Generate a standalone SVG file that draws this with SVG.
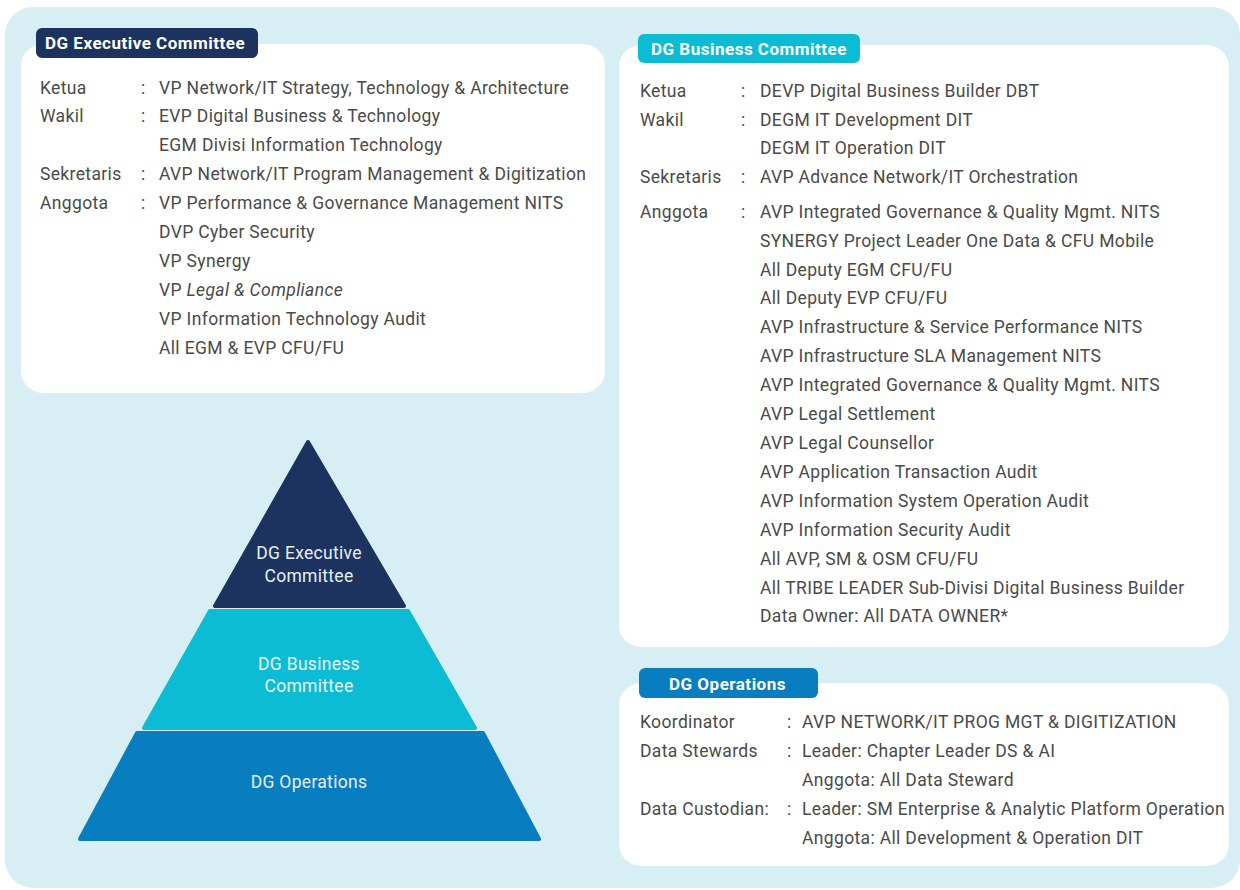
<svg xmlns="http://www.w3.org/2000/svg" width="1240" height="890" viewBox="0 0 1240 890">
<style>
.t{font-family:Roboto,"Liberation Sans",sans-serif;font-size:17.5px;letter-spacing:0.35px;fill:#4a4a4a}
.h{font-family:Roboto,"Liberation Sans",sans-serif;font-size:17px;letter-spacing:0.5px;font-weight:bold;fill:#ffffff}
.p{font-family:Roboto,"Liberation Sans",sans-serif;font-size:17.5px;letter-spacing:0.3px;text-anchor:middle}
.box{fill:#ffffff}
</style>
<rect x="5" y="7" width="1235" height="881" rx="28" fill="#d7eff4"/>
<g id="exec-committee">
<rect class="box" x="21" y="44" width="584" height="349" rx="22"/>
<rect x="36" y="28" width="222" height="30" rx="6" fill="#1b335e"/>
<text class="h" x="45" y="49">DG Executive Committee</text>
<text class="t" x="40" y="94">Ketua</text><text class="t" x="141" y="94">:</text><text class="t" x="159" y="94">VP Network/IT Strategy, Technology &amp; Architecture</text>
<text class="t" x="40" y="122">Wakil</text><text class="t" x="141" y="122">:</text><text class="t" x="159" y="122">EVP Digital Business &amp; Technology</text>
<text class="t" x="159" y="151">EGM Divisi Information Technology</text>
<text class="t" x="40" y="180">Sekretaris</text><text class="t" x="141" y="180">:</text><text class="t" x="159" y="180">AVP Network/IT Program Management &amp; Digitization</text>
<text class="t" x="40" y="209">Anggota</text><text class="t" x="141" y="209">:</text><text class="t" x="159" y="209">VP Performance &amp; Governance Management NITS</text>
<text class="t" x="159" y="238">DVP Cyber Security</text>
<text class="t" x="159" y="267">VP Synergy</text>
<text class="t" x="159" y="296">VP <tspan font-style="italic">Legal &amp; Compliance</tspan></text>
<text class="t" x="159" y="325">VP Information Technology Audit</text>
<text class="t" x="159" y="354">All EGM &amp; EVP CFU/FU</text>
</g>
<g id="business-committee">
<rect class="box" x="619" y="45" width="610" height="602" rx="22"/>
<rect x="638" y="34" width="222" height="29" rx="6" fill="#0bbcd4"/>
<text class="h" x="651" y="55">DG Business Committee</text>
<text class="t" x="640" y="97">Ketua</text><text class="t" x="741" y="97">:</text><text class="t" x="760" y="97">DEVP Digital Business Builder DBT</text>
<text class="t" x="640" y="126">Wakil</text><text class="t" x="741" y="126">:</text><text class="t" x="760" y="126">DEGM IT Development DIT</text>
<text class="t" x="760" y="154">DEGM IT Operation DIT</text>
<text class="t" x="640" y="183">Sekretaris</text><text class="t" x="741" y="183">:</text><text class="t" x="760" y="183">AVP Advance Network/IT Orchestration</text>
<text class="t" x="640" y="218">Anggota</text><text class="t" x="741" y="218">:</text><text class="t" x="760" y="218">AVP Integrated Governance &amp; Quality Mgmt. NITS</text>
<text class="t" x="760" y="247">SYNERGY Project Leader One Data &amp; CFU Mobile</text>
<text class="t" x="760" y="276">All Deputy EGM CFU/FU</text>
<text class="t" x="760" y="304">All Deputy EVP CFU/FU</text>
<text class="t" x="760" y="333">AVP Infrastructure &amp; Service Performance NITS</text>
<text class="t" x="760" y="362">AVP Infrastructure SLA Management NITS</text>
<text class="t" x="760" y="391">AVP Integrated Governance &amp; Quality Mgmt. NITS</text>
<text class="t" x="760" y="420">AVP Legal Settlement</text>
<text class="t" x="760" y="449">AVP Legal Counsellor</text>
<text class="t" x="760" y="478">AVP Application Transaction Audit</text>
<text class="t" x="760" y="507">AVP Information System Operation Audit</text>
<text class="t" x="760" y="536">AVP Information Security Audit</text>
<text class="t" x="760" y="565">All AVP, SM &amp; OSM CFU/FU</text>
<text class="t" x="760" y="594">All TRIBE LEADER Sub-Divisi Digital Business Builder</text>
<text class="t" x="760" y="622">Data Owner: All DATA OWNER*</text>
</g>
<g id="operations">
<rect class="box" x="619" y="683" width="610" height="183" rx="22"/>
<rect x="639" y="668" width="179" height="30" rx="6" fill="#087dc0"/>
<text class="h" x="669" y="690">DG Operations</text>
<text class="t" x="640" y="728">Koordinator</text><text class="t" x="787" y="728">:</text><text class="t" x="802" y="728">AVP NETWORK/IT PROG MGT &amp; DIGITIZATION</text>
<text class="t" x="640" y="757">Data Stewards</text><text class="t" x="787" y="757">:</text><text class="t" x="802" y="757">Leader: Chapter Leader DS &amp; AI</text>
<text class="t" x="802" y="786">Anggota: All Data Steward</text>
<text class="t" x="640" y="815">Data Custodian:</text><text class="t" x="787" y="815">:</text><text class="t" x="802" y="815">Leader: SM Enterprise &amp; Analytic Platform Operation</text>
<text class="t" x="802" y="844">Anggota: All Development &amp; Operation DIT</text>
</g>
<g id="pyramid-exec">
<polygon points="308,442 215,606 404,606" fill="#1b335e" stroke="#1b335e" stroke-width="4" stroke-linejoin="round"/>
<text class="p" x="309" y="559" fill="#e8eef6">DG Executive</text>
<text class="p" x="309" y="582" fill="#e8eef6">Committee</text>
</g>
<g id="pyramid-business">
<polygon points="210,611 408,611 475,728 144,728" fill="#0bbcd4" stroke="#0bbcd4" stroke-width="4" stroke-linejoin="round"/>
<text class="p" x="309" y="670" fill="#e6f8fb">DG Business</text>
<text class="p" x="309" y="692" fill="#e6f8fb">Committee</text>
</g>
<g id="pyramid-operations">
<polygon points="137,733 483,733 539,839 80,839" fill="#087dc0" stroke="#087dc0" stroke-width="4" stroke-linejoin="round"/>
<text class="p" x="309" y="788" fill="#e6f0f8">DG Operations</text>
</g>
<g id="connectors"/>
</svg>
